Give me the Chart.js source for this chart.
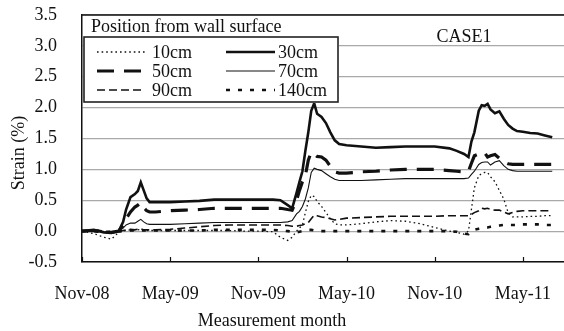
<!DOCTYPE html>
<html>
<head>
<meta charset="utf-8">
<script src="https://cdn.jsdelivr.net/npm/chart.js@4/dist/chart.umd.min.js"></script>
<style>
  html, body { margin: 0; padding: 0; background: #fff; }
  #wrap { width: 564px; height: 331px; }
</style>
</head>
<body>
<div id="wrap"><canvas id="c" width="564" height="331"></canvas></div>
<script>
// Months elapsed since the start of Nov-2008
const months = [0, 0.8, 1.5, 2.0, 2.5, 2.8, 3.0, 3.3, 3.6, 3.8, 4.0, 4.2, 4.4, 4.6, 5.0, 6, 7, 8, 9, 10, 11, 12, 13, 13.5, 14.0, 14.3, 14.6, 14.8, 15.0, 15.2, 15.4, 15.6, 15.8, 16.0, 16.3, 16.6, 16.9, 17.2, 17.5, 18, 19, 20, 21, 22, 23, 24, 25, 25.5, 26.0, 26.3, 26.5, 26.7, 27.0, 27.2, 27.4, 27.6, 27.8, 28.1, 28.4, 28.7, 29.0, 29.3, 29.6, 30, 30.5, 31, 31.5, 32];

const strain10 = [0, -0.04, -0.1, -0.13, -0.02, 0.0, 0.01, 0.02, 0.02, 0.02, 0.03, 0.02, 0.01, 0.01, 0.01, 0.01, 0.01, 0.01, 0.01, 0.01, 0.0, 0.0, -0.01, -0.1, -0.15, -0.1, 0.0, 0.05, 0.1, 0.3, 0.48, 0.58, 0.56, 0.48, 0.4, 0.3, 0.2, 0.12, 0.1, 0.1, 0.12, 0.15, 0.17, 0.16, 0.12, 0.06, 0.0, -0.02, -0.05, 0.0, 0.35, 0.7, 0.9, 0.93, 0.95, 0.95, 0.88, 0.8, 0.66, 0.52, 0.3, 0.23, 0.23, 0.23, 0.24, 0.24, 0.25, 0.25];
const strain30 = [0, 0.02, -0.02, -0.03, 0.0, 0.15, 0.35, 0.55, 0.6, 0.65, 0.79, 0.66, 0.53, 0.47, 0.47, 0.47, 0.48, 0.49, 0.51, 0.51, 0.51, 0.51, 0.51, 0.5, 0.42, 0.37, 0.62, 0.8, 0.97, 1.3, 1.6, 1.95, 2.07, 1.9, 1.85, 1.75, 1.6, 1.47, 1.41, 1.39, 1.37, 1.35, 1.36, 1.37, 1.37, 1.37, 1.34, 1.3, 1.25, 1.2, 1.45, 1.6, 1.95, 2.04, 2.03, 2.06, 1.97, 1.91, 1.94, 1.82, 1.72, 1.66, 1.62, 1.61, 1.59, 1.58, 1.55, 1.52];
const strain50 = [0, 0.01, -0.02, -0.02, 0, 0.1, 0.2, 0.31, 0.39, 0.42, 0.46, 0.38, 0.33, 0.31, 0.31, 0.33, 0.34, 0.35, 0.37, 0.37, 0.37, 0.37, 0.37, 0.37, 0.35, 0.34, 0.5, 0.66, 0.8, 0.9, 1.15, 1.28, 1.25, 1.21, 1.2, 1.15, 1.05, 0.96, 0.94, 0.94, 0.96, 0.97, 0.99, 1.0, 1.0, 1.0, 0.98, 0.97, 0.96, 0.97, 1.1, 1.22, 1.25, 1.28, 1.27, 1.2, 1.22, 1.24, 1.18, 1.12, 1.09, 1.08, 1.08, 1.08, 1.08, 1.08, 1.08, 1.08];
const strain70 = [0, 0.01, -0.02, -0.02, 0, 0.05, 0.1, 0.13, 0.13, 0.16, 0.19, 0.15, 0.12, 0.11, 0.11, 0.11, 0.12, 0.13, 0.14, 0.14, 0.14, 0.14, 0.14, 0.14, 0.15, 0.17, 0.28, 0.32, 0.4, 0.52, 0.7, 0.95, 1.02, 1.0, 0.98, 0.93, 0.88, 0.84, 0.82, 0.82, 0.82, 0.83, 0.84, 0.85, 0.85, 0.85, 0.85, 0.85, 0.85, 0.86, 0.92, 0.97, 1.08, 1.11, 1.12, 1.12, 1.07, 1.12, 1.14, 1.06, 1.0, 0.98, 0.97, 0.97, 0.97, 0.97, 0.97, 0.97];
const strain90 = [0, 0.02, 0, -0.01, 0, 0.01, 0.02, 0.03, 0.02, 0.03, 0.04, 0.02, 0.02, 0.02, 0.02, 0.03, 0.05, 0.07, 0.09, 0.1, 0.1, 0.1, 0.1, 0.1, 0.09, 0.08, 0.08, 0.09, 0.1, 0.12, 0.14, 0.2, 0.26, 0.25, 0.23, 0.22, 0.2, 0.18, 0.19, 0.21, 0.22, 0.23, 0.24, 0.24, 0.24, 0.24, 0.25, 0.25, 0.25, 0.25, 0.27, 0.3, 0.33, 0.37, 0.36, 0.37, 0.35, 0.34, 0.34, 0.31, 0.28, 0.3, 0.32, 0.33, 0.33, 0.33, 0.33, 0.33];
const strain140 = [0, 0.0, -0.02, -0.01, 0, 0.0, 0.0, 0.01, 0.01, 0.01, 0.01, 0.01, 0.01, 0.01, 0.01, 0.01, 0.01, 0.01, 0.02, 0.02, 0.02, 0.02, 0.02, 0.01, 0.0, -0.01, -0.02, -0.01, 0.0, 0.01, 0.02, 0.02, 0.01, 0.0, 0.0, 0.0, 0.0, 0.0, 0.0, 0.0, 0.0, 0.0, 0.0, 0.0, 0.0, 0.0, 0.0, -0.01, -0.04, -0.05, 0.0, 0.02, 0.04, 0.05, 0.06, 0.06, 0.07, 0.08, 0.09, 0.1, 0.1, 0.1, 0.1, 0.11, 0.11, 0.11, 0.1, 0.1];

const seriesNames = ['10cm', '30cm', '50cm', '70cm', '90cm', '140cm'];
const tickMonths = [0, 6, 12, 18, 24, 30];
const tickLabels = ['Nov-08', 'May-09', 'Nov-09', 'May-10', 'Nov-10', 'May-11'];
const yTicks = [-0.5, 0, 0.5, 1.0, 1.5, 2.0, 2.5, 3.0, 3.5];
const legendTitle = 'Position from wall surface';
const caseLabel = 'CASE1';
const xTitle = 'Measurement month';
const yTitle = 'Strain (%)';

const FONT = '"Liberation Serif", "Times New Roman", serif';
const INK = '#111';

function pts(vals) { return months.map((m, i) => ({ x: m, y: vals[i] })); }

const styles = [
  { width: 1.3, dash: [1.6, 3] },
  { width: 2.6, dash: [] },
  { width: 3.2, dash: [17, 10] },
  { width: 1.1, dash: [] },
  { width: 1.6, dash: [8, 4] },
  { width: 2.6, dash: [4, 8] }
];
const allVals = [strain10, strain30, strain50, strain70, strain90, strain140];

const datasets = allVals.map((vals, i) => ({
  label: seriesNames[i],
  data: pts(vals),
  borderColor: INK,
  backgroundColor: INK,
  borderWidth: styles[i].width,
  borderDash: styles[i].dash,
  pointRadius: 0,
  tension: 0,
  fill: false
}));

function noPad(s) { s.paddingTop = 0; s.paddingBottom = 0; s.paddingLeft = 0; s.paddingRight = 0; }

const decor = {
  id: 'decor',
  beforeDraw(chart) {
    const ctx = chart.ctx;
    ctx.save();
    ctx.fillStyle = '#fff';
    ctx.fillRect(0, 0, chart.width, chart.height);
    ctx.restore();
  },
  afterDatasetsDraw(chart) {
    const ctx = chart.ctx;
    const xs = chart.scales.x;
    const area = chart.chartArea;
    ctx.save();
    // inward x tick marks
    ctx.strokeStyle = INK;
    ctx.lineWidth = 1.2;
    tickMonths.forEach(m => {
      const px = Math.round(xs.getPixelForValue(m)) + 0.5;
      ctx.beginPath();
      ctx.moveTo(px, area.bottom);
      ctx.lineTo(px, area.bottom - 5);
      ctx.stroke();
    });
    // top border
    ctx.lineWidth = 1.5;
    ctx.beginPath();
    ctx.moveTo(area.left, area.top);
    ctx.lineTo(area.right, area.top);
    ctx.stroke();

    // legend
    const L = 84, R = 338, T = 37, B = 102;
    ctx.fillStyle = '#fff';
    ctx.fillRect(area.left + 1, area.top + 1, R - area.left, B - area.top);
    ctx.strokeStyle = '#222';
    ctx.lineWidth = 1.6;
    ctx.strokeRect(L, T, R - L, B - T);
    ctx.fillStyle = INK;
    ctx.font = '18px ' + FONT;
    ctx.textBaseline = 'middle';
    ctx.textAlign = 'left';
    ctx.fillText(legendTitle, 91, 27);
    const rows = [52, 71, 90];
    const cols = [{ x0: 97, x1: 145, tx: 152 }, { x0: 226, x1: 275, tx: 278 }];
    chart.data.datasets.forEach((ds, i) => {
      const r = rows[Math.floor(i / 2)], c = cols[i % 2];
      ctx.save();
      ctx.strokeStyle = ds.borderColor;
      ctx.lineWidth = ds.borderWidth;
      ctx.setLineDash(ds.borderDash);
      ctx.beginPath();
      ctx.moveTo(c.x0, r);
      ctx.lineTo(c.x1, r);
      ctx.stroke();
      ctx.restore();
      ctx.fillText(ds.label, c.tx, r + 1);
    });
    // case label
    ctx.textAlign = 'center';
    ctx.fillText(caseLabel, 464, 37);
    // axis titles
    ctx.fillText(xTitle, 272, 321);
    ctx.translate(19, 153);
    ctx.rotate(-Math.PI / 2);
    ctx.fillText(yTitle, 0, 0);
    ctx.restore();
  }
};

new Chart(document.getElementById('c'), {
  type: 'line',
  data: { datasets },
  plugins: [decor],
  options: {
    responsive: false,
    devicePixelRatio: 1,
    animation: false,
    events: [],
    layout: { padding: { top: 15, left: 0, right: 0, bottom: 0 } },
    plugins: { legend: { display: false }, tooltip: { enabled: false } },
    scales: {
      x: {
        type: 'linear',
        min: 0,
        max: 32.8,
        afterFit(s) { s.height = 69; noPad(s); },
        afterBuildTicks(s) { s.ticks = tickMonths.map(v => ({ value: v })); },
        grid: { display: false },
        border: { display: true, color: INK, width: 1.5 },
        ticks: {
          padding: 13,
          color: INK,
          font: { family: FONT, size: 18 },
          maxRotation: 0,
          autoSkip: false,
          callback(v) { const i = tickMonths.indexOf(v); return i >= 0 ? tickLabels[i] : ''; }
        }
      },
      y: {
        min: -0.5,
        max: 3.5,
        afterFit(s) { s.width = 82; noPad(s); },
        afterBuildTicks(s) { s.ticks = yTicks.map(v => ({ value: v })); },
        grid: { color: '#a9a9a9', lineWidth: 1.2, drawTicks: false },
        border: { display: true, color: INK, width: 1.5 },
        ticks: {
          padding: 25,
          color: INK,
          font: { family: FONT, size: 18 },
          callback(v) { return v.toFixed(1); }
        }
      }
    }
  }
});
</script>
</body>
</html>
